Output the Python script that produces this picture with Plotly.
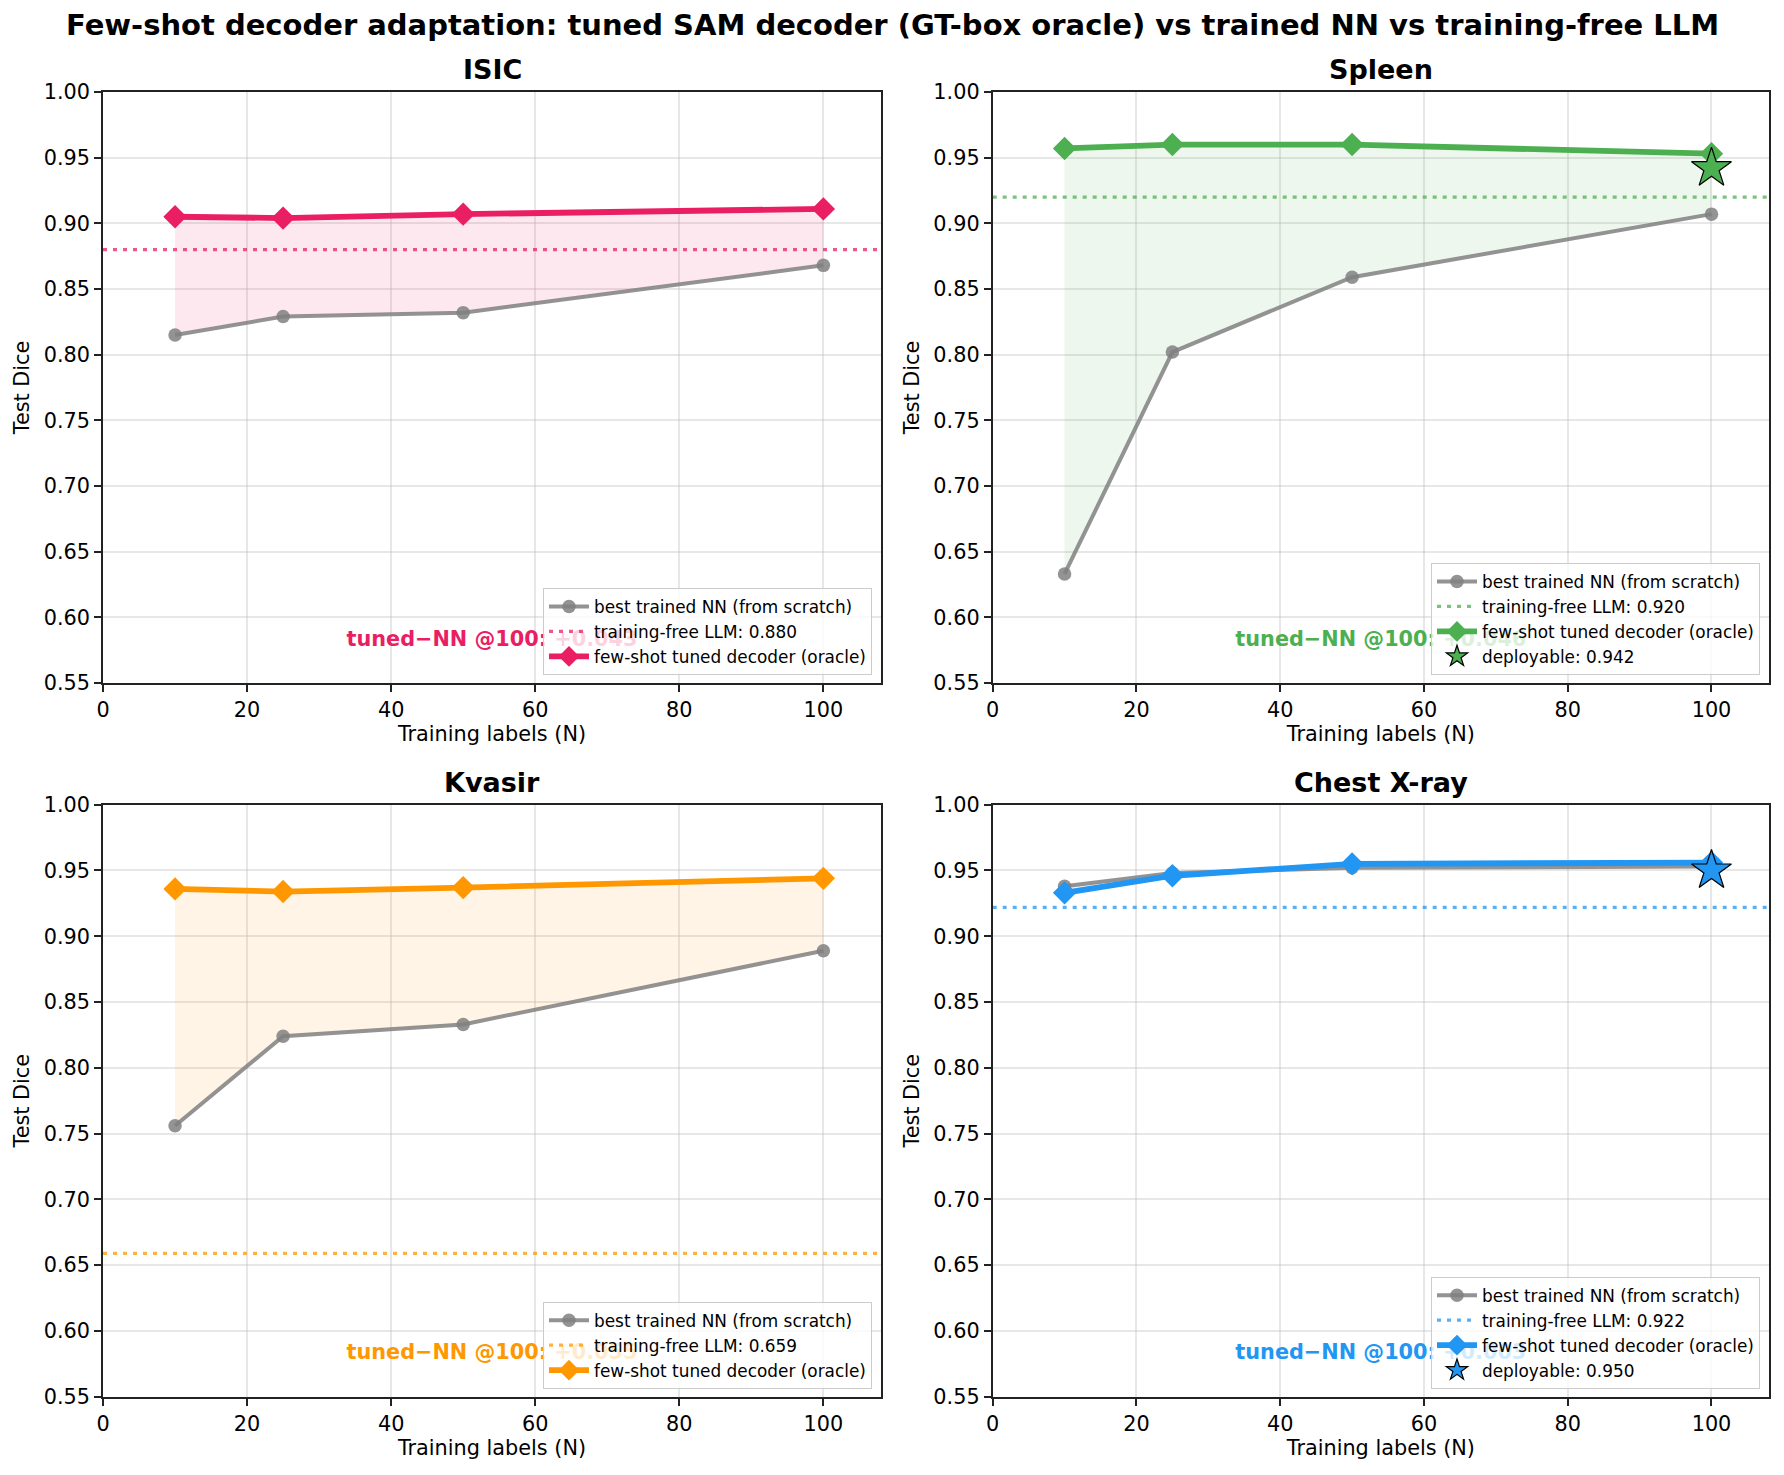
import plotly.graph_objects as go

# ---------------- data ----------------
N_LABELS = [10, 25, 50, 100]

panel_names = ["ISIC", "Spleen", "Kvasir", "Chest X-ray"]
panel_colors = ["#E91E63", "#4CAF50", "#FF9800", "#2196F3"]

isic_nn = [0.815, 0.829, 0.832, 0.868]
isic_tuned = [0.905, 0.904, 0.907, 0.911]
isic_llm = 0.880
isic_deploy = None

spleen_nn = [0.633, 0.802, 0.859, 0.907]
spleen_tuned = [0.957, 0.960, 0.960, 0.953]
spleen_llm = 0.920
spleen_deploy = 0.942

kvasir_nn = [0.756, 0.824, 0.833, 0.889]
kvasir_tuned = [0.936, 0.934, 0.937, 0.944]
kvasir_llm = 0.659
kvasir_deploy = None

chest_nn = [0.938, 0.948, 0.952, 0.953]
chest_tuned = [0.933, 0.946, 0.955, 0.956]
chest_llm = 0.922
chest_deploy = 0.950

nn_series = [isic_nn, spleen_nn, kvasir_nn, chest_nn]
tuned_series = [isic_tuned, spleen_tuned, kvasir_tuned, chest_tuned]
llm_values = [isic_llm, spleen_llm, kvasir_llm, chest_llm]
deploy_values = [isic_deploy, spleen_deploy, kvasir_deploy, chest_deploy]

X_RANGE = [0, 108]
Y_RANGE = [0.55, 1.0]
Y_TICKS = [0.55, 0.60, 0.65, 0.70, 0.75, 0.80, 0.85, 0.90, 0.95, 1.00]
X_TICKS = [0, 20, 40, 60, 80, 100]

TITLE = "Few-shot decoder adaptation: tuned SAM decoder (GT-box oracle) vs trained NN vs training-free LLM"

# ---------------- layout geometry ----------------
W, H = 1784, 1475
FONT = "DejaVu Sans"
x_domains = [[0.05774, 0.49383], [0.55644, 0.99159]]
y_domains = [[0.53695, 0.93763], [0.05308, 0.45444]]
GAP_TEXT_FRAC = 0.072  # vertical position of the gap note, as fraction of axes height


def rgba(hexc, a):
    hexc = hexc.lstrip("#")
    r, g, b = int(hexc[0:2], 16), int(hexc[2:4], 16), int(hexc[4:6], 16)
    return f"rgba({r},{g},{b},{a})"


fig = go.Figure()
annotations = []
layout = {}

for i in range(4):
    row, col = divmod(i, 2)
    idx = "" if i == 0 else str(i + 1)
    xa, ya = "x" + idx, "y" + idx
    leg = "legend" + idx
    color = panel_colors[i]
    nn = nn_series[i]
    tuned = tuned_series[i]

    # gap note (drawn in the plot so the legend box covers it, as in the original)
    gap = tuned[-1] - nn[-1]
    fig.add_trace(go.Scatter(
        x=[(X_RANGE[0] + X_RANGE[1]) / 2],
        y=[Y_RANGE[0] + GAP_TEXT_FRAC * (Y_RANGE[1] - Y_RANGE[0])],
        xaxis=xa, yaxis=ya, mode="text",
        text=[f"<b>tuned\u2212NN @{N_LABELS[-1]}: {gap:+.3f}</b>"],
        textposition="middle center",
        textfont=dict(family=FONT, size=20.8, color=color),
        showlegend=False, hoverinfo="skip", cliponaxis=False))

    # fill between NN and tuned
    fig.add_trace(go.Scatter(x=N_LABELS, y=nn, xaxis=xa, yaxis=ya, mode="lines",
                             line=dict(width=0, color="rgba(0,0,0,0)"), showlegend=False,
                             hoverinfo="skip"))
    fig.add_trace(go.Scatter(x=N_LABELS, y=tuned, xaxis=xa, yaxis=ya, mode="lines",
                             line=dict(width=0, color="rgba(0,0,0,0)"), fill="tonexty",
                             fillcolor=rgba(color, 0.10), showlegend=False, hoverinfo="skip"))
    # NN line
    fig.add_trace(go.Scatter(x=N_LABELS, y=nn, xaxis=xa, yaxis=ya, mode="lines+markers",
                             name="best trained NN (from scratch)",
                             line=dict(color="rgba(128,128,128,0.85)", width=4),
                             marker=dict(symbol="circle", size=13.5, color="rgba(128,128,128,0.85)"),
                             legend=leg))
    # LLM horizontal reference
    fig.add_trace(go.Scatter(x=X_RANGE, y=[llm_values[i]] * 2, xaxis=xa, yaxis=ya, mode="lines",
                             name=f"training-free LLM: {llm_values[i]:.3f}",
                             line=dict(color=rgba(color, 0.75), width=3.3, dash="4px,6px"),
                             legend=leg))
    # tuned decoder
    fig.add_trace(go.Scatter(x=N_LABELS, y=tuned, xaxis=xa, yaxis=ya, mode="lines+markers",
                             name="few-shot tuned decoder (oracle)",
                             line=dict(color=color, width=5.8),
                             marker=dict(symbol="diamond", size=18, color=color),
                             legend=leg))
    if deploy_values[i] is not None:
        fig.add_trace(go.Scatter(x=[N_LABELS[-1]], y=[deploy_values[i]], xaxis=xa, yaxis=ya,
                                 mode="markers", name=f"deployable: {deploy_values[i]:.3f}",
                                 marker=dict(symbol="star", size=30, color=color,
                                             line=dict(color="black", width=1.2)),
                                 legend=leg))

    xd, yd = x_domains[col], y_domains[row]
    axis_common = dict(showline=True, mirror=True, linecolor="#222222", linewidth=1.7,
                       ticks="outside", ticklen=7, tickwidth=1.7, tickcolor="#222222",
                       showgrid=True, gridcolor="rgba(180,180,180,0.32)", gridwidth=1.5,
                       zeroline=False, tickfont=dict(family=FONT, size=20.8, color="black"),
                       automargin=False)
    layout["xaxis" + idx] = dict(axis_common, domain=xd, range=X_RANGE, tickvals=X_TICKS,
                                 anchor=ya,
                                 title=dict(text="Training labels (N)", standoff=6,
                                            font=dict(family=FONT, size=20.8, color="black")))
    layout["yaxis" + idx] = dict(axis_common, domain=yd, range=Y_RANGE, tickvals=Y_TICKS,
                                 tickformat=".2f", anchor=xa,
                                 title=dict(text="Test Dice", standoff=8,
                                            font=dict(family=FONT, size=20.8, color="black")))
    layout[leg] = dict(x=xd[1] - 9 / W, y=yd[0] + 8 / H, xanchor="right", yanchor="bottom",
                       traceorder="normal",
                       bgcolor="rgba(255,255,255,0.8)", bordercolor="#cccccc", borderwidth=1,
                       font=dict(family=FONT, size=16.9, color="black"), itemwidth=40,
                       tracegroupgap=0)

    # subplot title
    annotations.append(dict(text=f"<b>{panel_names[i]}</b>", xref="paper", yref="paper",
                            x=(xd[0] + xd[1]) / 2, y=yd[1] + 22 / H, xanchor="center",
                            yanchor="middle", showarrow=False,
                            font=dict(family=FONT, size=27, color="black")))

annotations.append(dict(text=f"<b>{TITLE}</b>", xref="paper", yref="paper", x=0.5,
                        y=1 - 25 / H, xanchor="center", yanchor="middle", showarrow=False,
                        font=dict(family=FONT, size=29, color="black")))

fig.update_layout(**layout)
fig.update_layout(width=W, height=H, margin=dict(l=0, r=0, t=0, b=0),
                  paper_bgcolor="white", plot_bgcolor="white",
                  font=dict(family=FONT, color="black"),
                  annotations=annotations)

fig.write_html("out.html")
